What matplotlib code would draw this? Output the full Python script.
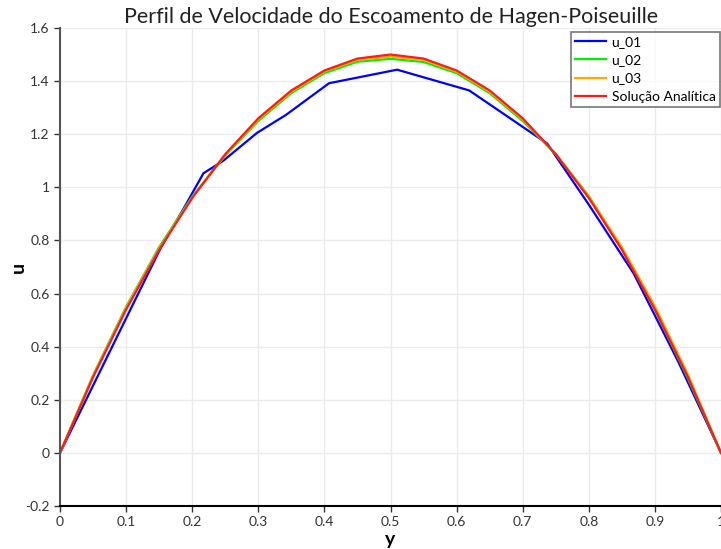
import numpy as np
import matplotlib.pyplot as plt

plt.rcParams['font.family'] = ['Lato', 'DejaVu Sans']

# coarse mesh (u_01) sampled along the channel height
y_01 = [0.0, 0.152, 0.187, 0.217, 0.247, 0.298, 0.342, 0.407, 0.510,
        0.619, 0.737, 0.800, 0.868, 0.935, 1.0]
u_01 = [0.0, 0.77, 0.92, 1.053, 1.10, 1.205, 1.273, 1.392, 1.443,
        1.365, 1.165, 0.935, 0.675, 0.345, 0.0]

# finer meshes and analytical profile on a regular grid
y_fine = [0.0, 0.05, 0.1, 0.15, 0.2, 0.25, 0.3, 0.35, 0.4, 0.45, 0.5,
          0.55, 0.6, 0.65, 0.7, 0.75, 0.8, 0.85, 0.9, 0.95, 1.0]
u_02 = [0.0, 0.292, 0.55, 0.775, 0.965, 1.12, 1.25, 1.355, 1.43, 1.473, 1.484,
        1.472, 1.43, 1.355, 1.25, 1.125, 0.967, 0.77, 0.54, 0.28, 0.0]
u_03 = [0.0, 0.29, 0.547, 0.77, 0.962, 1.123, 1.256, 1.36, 1.436, 1.48, 1.492,
        1.48, 1.436, 1.36, 1.256, 1.125, 0.965, 0.775, 0.552, 0.295, 0.0]
u_an = [0.0, 0.285, 0.54, 0.765, 0.96, 1.125, 1.26, 1.365, 1.44, 1.485, 1.5,
        1.485, 1.44, 1.365, 1.26, 1.125, 0.96, 0.765, 0.54, 0.285, 0.0]

x_ticks = [0, 0.1, 0.2, 0.3, 0.4, 0.5, 0.6, 0.7, 0.8, 0.9, 1]
x_labels = ['0', '0.1', '0.2', '0.3', '0.4', '0.5', '0.6', '0.7', '0.8', '0.9', '1']
y_ticks = [-0.2, 0, 0.2, 0.4, 0.6, 0.8, 1, 1.2, 1.4, 1.6]
y_labels = ['-0.2', '0', '0.2', '0.4', '0.6', '0.8', '1', '1.2', '1.4', '1.6']

fig = plt.figure(figsize=(7.21, 5.49), dpi=100)
ax = fig.add_axes([60 / 721, 43 / 549, 661 / 721, 478 / 549])

ax.plot(y_01, u_01, color='#0000ff', lw=1.6, label='u_01')
ax.plot(y_fine, u_02, color='#00ee00', lw=1.6, label='u_02')
ax.plot(y_fine, u_03, color='#ffaa00', lw=1.6, label='u_03')
ax.plot(y_fine, u_an, color='#ff1a1a', lw=1.6, label='Solução Analítica')

ax.set_xlim(0, 1)
ax.set_ylim(-0.2, 1.6)
ax.set_xticks(x_ticks)
ax.set_xticklabels(x_labels)
ax.set_yticks(y_ticks)
ax.set_yticklabels(y_labels)
ax.tick_params(labelsize=10, colors='#333333', length=4, width=1)
ax.grid(True, color='#ebebeb', lw=1)

for side in ['top', 'right']:
    ax.spines[side].set_visible(False)
ax.spines['left'].set_color('#555555')
ax.spines['left'].set_linewidth(1.5)
ax.spines['bottom'].set_color('black')
ax.spines['bottom'].set_linewidth(1.5)

ax.set_xlabel('y', fontsize=14, fontweight='bold', labelpad=2)
ax.set_ylabel('u', fontsize=14, fontweight='bold')
ax.yaxis.set_label_coords(-33 / 661, 0.5)
fig.text(391 / 721, 1 - 17 / 549, 'Perfil de Velocidade do Escoamento de Hagen-Poiseuille',
         ha='center', va='center', fontsize=15.5, color='#222222')

leg = ax.legend(loc='upper right', bbox_to_anchor=(1.0, 0.995), fontsize=10,
                frameon=True, fancybox=False, borderpad=0.3, labelspacing=0.45,
                handlelength=2.2, handletextpad=0.4, borderaxespad=0.1)
leg.get_frame().set_edgecolor('#555555')
leg.get_frame().set_linewidth(1.2)

fig.savefig('out.png', dpi=100)
